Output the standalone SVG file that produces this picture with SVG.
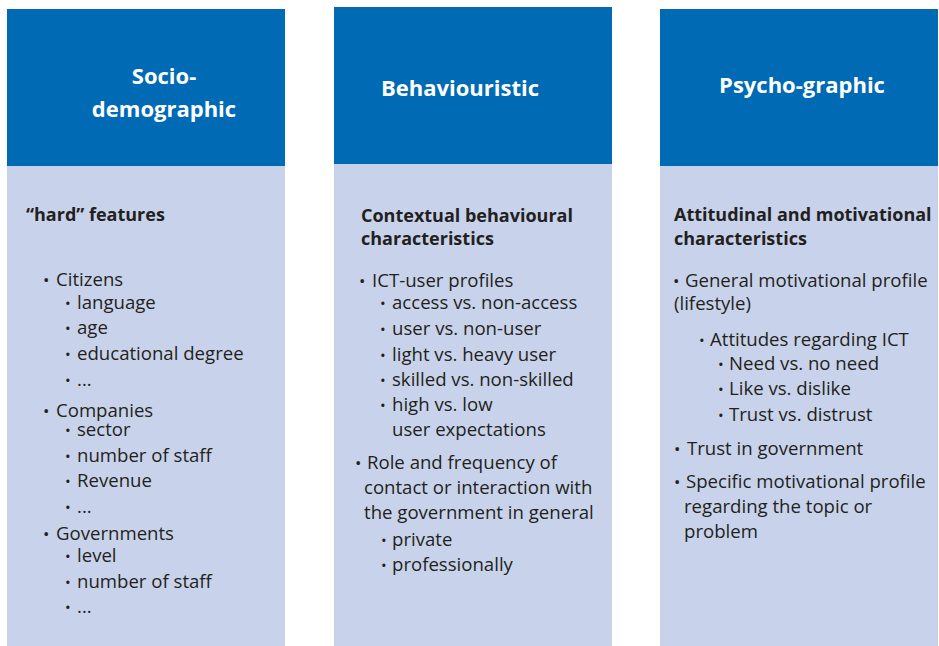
<svg xmlns="http://www.w3.org/2000/svg" width="939" height="646" viewBox="0 0 939 646">
<style>
.hd{fill:#006AB4}
.bd{fill:#C8D3EB}
.ht{font-family:"Open Sans","Noto Sans","Liberation Sans",sans-serif;font-weight:700;font-size:22px;fill:#FFFFFF;text-anchor:middle}
.sh{font-family:"Open Sans","Noto Sans","Liberation Sans",sans-serif;font-weight:700;font-size:18px;fill:#231F20}
.t{font-family:"Open Sans","Noto Sans","Liberation Sans",sans-serif;font-size:18.6px;fill:#231F20}
.b{font-size:17px}
.s{font-size:15px}
</style>
<rect width="939" height="646" fill="#FFFFFF"/>
<g id="socio-demographic">
<rect class="hd" x="7" y="9" width="278" height="157"/>
<rect class="bd" x="7" y="166" width="278" height="480"/>
<text class="ht" x="164" y="84">Socio-</text>
<text class="ht" x="164" y="117">demographic</text>
<text class="sh" x="26" y="221">“hard” features</text>
<text class="t" y="286"><tspan class="b" x="43">•</tspan><tspan x="56">Citizens</tspan></text>
<text class="t" y="309"><tspan class="s" x="65">•</tspan><tspan x="77">language</tspan></text>
<text class="t" y="334"><tspan class="s" x="65">•</tspan><tspan x="77">age</tspan></text>
<text class="t" y="360"><tspan class="s" x="65">•</tspan><tspan x="77">educational degree</tspan></text>
<text class="t" y="386"><tspan class="s" x="65">•</tspan><tspan x="77">...</tspan></text>
<text class="t" y="417"><tspan class="b" x="43">•</tspan><tspan x="56">Companies</tspan></text>
<text class="t" y="436"><tspan class="s" x="65">•</tspan><tspan x="77">sector</tspan></text>
<text class="t" y="462"><tspan class="s" x="65">•</tspan><tspan x="77">number of staff</tspan></text>
<text class="t" y="487"><tspan class="s" x="65">•</tspan><tspan x="77">Revenue</tspan></text>
<text class="t" y="513"><tspan class="s" x="65">•</tspan><tspan x="77">...</tspan></text>
<text class="t" y="540"><tspan class="b" x="43">•</tspan><tspan x="56">Governments</tspan></text>
<text class="t" y="562"><tspan class="s" x="65">•</tspan><tspan x="77">level</tspan></text>
<text class="t" y="588"><tspan class="s" x="65">•</tspan><tspan x="77">number of staff</tspan></text>
<text class="t" y="613"><tspan class="s" x="65">•</tspan><tspan x="77">...</tspan></text>
</g>
<g id="behaviouristic">
<rect class="hd" x="334" y="7" width="278" height="157"/>
<rect class="bd" x="334" y="164" width="278" height="482"/>
<text class="ht" x="460" y="96">Behaviouristic</text>
<text class="sh" x="361" y="222">Contextual behavioural</text>
<text class="sh" x="361" y="245">characteristics</text>
<text class="t" y="287"><tspan class="b" x="359">•</tspan><tspan x="372">ICT-user profiles</tspan></text>
<text class="t" y="309"><tspan class="s" x="380">•</tspan><tspan x="392">access vs. non-access</tspan></text>
<text class="t" y="335"><tspan class="s" x="380">•</tspan><tspan x="392">user vs. non-user</tspan></text>
<text class="t" y="361"><tspan class="s" x="380">•</tspan><tspan x="392">light vs. heavy user</tspan></text>
<text class="t" y="386"><tspan class="s" x="380">•</tspan><tspan x="392">skilled vs. non-skilled</tspan></text>
<text class="t" y="411"><tspan class="s" x="380">•</tspan><tspan x="392">high vs. low</tspan></text>
<text class="t" x="392" y="436">user expectations</text>
<text class="t" y="469"><tspan class="b" x="355">•</tspan><tspan x="367">Role and frequency of</tspan></text>
<text class="t" x="364" y="494">contact or interaction with</text>
<text class="t" x="364" y="519">the government in general</text>
<text class="t" y="546"><tspan class="s" x="381">•</tspan><tspan x="392">private</tspan></text>
<text class="t" y="571"><tspan class="s" x="381">•</tspan><tspan x="392">professionally</tspan></text>
</g>
<g id="psycho-graphic">
<rect class="hd" x="660" y="9" width="278" height="157"/>
<rect class="bd" x="660" y="166" width="278" height="480"/>
<text class="ht" x="802" y="93">Psycho-graphic</text>
<text class="sh" x="674" y="221">Attitudinal and motivational</text>
<text class="sh" x="674" y="245">characteristics</text>
<text class="t" y="287"><tspan class="b" x="673">•</tspan><tspan x="685">General motivational profile</tspan></text>
<text class="t" x="674" y="310">(lifestyle)</text>
<text class="t" y="346"><tspan class="s" x="699">•</tspan><tspan x="710">Attitudes regarding ICT</tspan></text>
<text class="t" y="370"><tspan class="s" x="718">•</tspan><tspan x="729">Need vs. no need</tspan></text>
<text class="t" y="395"><tspan class="s" x="718">•</tspan><tspan x="729">Like vs. dislike</tspan></text>
<text class="t" y="421"><tspan class="s" x="718">•</tspan><tspan x="729">Trust vs. distrust</tspan></text>
<text class="t" y="455"><tspan class="b" x="674">•</tspan><tspan x="687">Trust in government</tspan></text>
<text class="t" y="488"><tspan class="b" x="674">•</tspan><tspan x="686">Specific motivational profile</tspan></text>
<text class="t" x="684" y="513">regarding the topic or</text>
<text class="t" x="684" y="538">problem</text>
</g>
</svg>
